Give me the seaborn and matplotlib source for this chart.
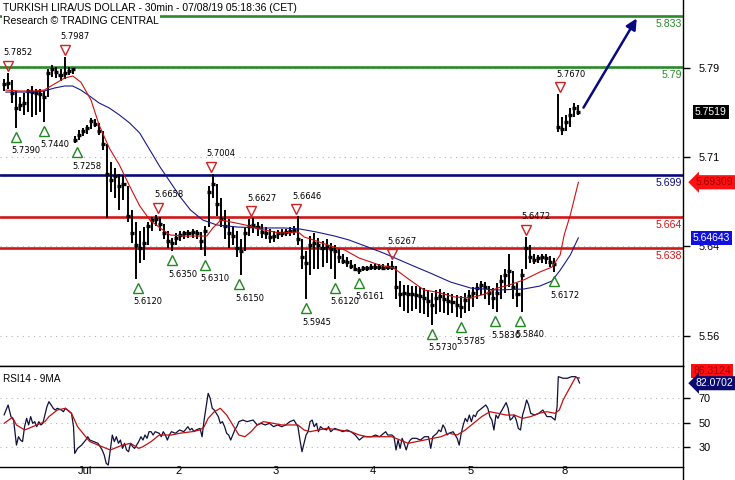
import numpy as np
import pandas as pd
import seaborn as sns
import matplotlib.pyplot as plt
import matplotlib.transforms as mtransforms
from matplotlib.lines import Line2D

# 30-min bars, x = bar number (0 = 1 Jul 00:00, weekends removed), one point per hour
bar_idx = list(range(-35, 0, 2)) + list(range(0, 237, 2)) + list(range(238, 249, 2))

bar_high = [
    # 28 Jun
    5.7800, 5.7852, 5.7790, 5.7700, 5.7650, 5.7680, 5.7720, 5.7740, 5.7720, 5.7720, 5.7700, 5.7880,
    5.7920, 5.7900, 5.7880, 5.7987, 5.7900, 5.7890,
    # 1 Jul
    5.7320, 5.7370, 5.7390, 5.7410, 5.7470, 5.7460, 5.7430, 5.7360, 5.7250, 5.7100, 5.7050, 5.7000,
    5.6990, 5.6900, 5.6700, 5.6600, 5.6520, 5.6550, 5.6600, 5.6640, 5.6658, 5.6640, 5.6580, 5.6520,
    # 2 Jul
    5.6460, 5.6500, 5.6520, 5.6520, 5.6530, 5.6540, 5.6530, 5.6510, 5.6560, 5.6900, 5.7004, 5.6920,
    5.6800, 5.6700, 5.6620, 5.6560, 5.6520, 5.6450, 5.6550, 5.6620, 5.6627, 5.6600, 5.6580, 5.6550,
    # 3 Jul
    5.6540, 5.6520, 5.6530, 5.6540, 5.6540, 5.6550, 5.6560, 5.6646, 5.6450, 5.6350, 5.6480, 5.6500,
    5.6460, 5.6440, 5.6450, 5.6420, 5.6400, 5.6370, 5.6330, 5.6300, 5.6280, 5.6240, 5.6220, 5.6230,
    # 4 Jul
    5.6230, 5.6240, 5.6240, 5.6240, 5.6240, 5.6250, 5.6267, 5.6230, 5.6100, 5.6070, 5.6070, 5.6060,
    5.6060, 5.6050, 5.6040, 5.6020, 5.6000, 5.6020, 5.6030, 5.6010, 5.6000, 5.5990, 5.5980, 5.5970,
    # 5 Jul
    5.6000, 5.6020, 5.6050, 5.6080, 5.6100, 5.6090, 5.6060, 5.6040, 5.6080, 5.6150, 5.6200, 5.6330,
    5.6180, 5.6080, 5.6200, 5.6472, 5.6400, 5.6330, 5.6320, 5.6330, 5.6330, 5.6310, 5.6290,
    # 8 Jul
    5.7670, 5.7480, 5.7500, 5.7560, 5.7600, 5.7580,
]
bar_low = [
    5.7700, 5.7720, 5.7600, 5.7390, 5.7530, 5.7500, 5.7520, 5.7480, 5.7500, 5.7520, 5.7440, 5.7650,
    5.7820, 5.7810, 5.7780, 5.7800, 5.7830, 5.7840,
    5.7258, 5.7290, 5.7320, 5.7340, 5.7380, 5.7400, 5.7330, 5.7200, 5.6630, 5.6850, 5.6800, 5.6700,
    5.6780, 5.6600, 5.6420, 5.6120, 5.6250, 5.6280, 5.6400, 5.6520, 5.6560, 5.6520, 5.6450, 5.6380,
    5.6350, 5.6400, 5.6440, 5.6450, 5.6460, 5.6460, 5.6450, 5.6360, 5.6310, 5.6550, 5.6800, 5.6650,
    5.6550, 5.6450, 5.6380, 5.6400, 5.6300, 5.6150, 5.6350, 5.6480, 5.6500, 5.6480, 5.6460, 5.6450,
    5.6420, 5.6430, 5.6450, 5.6470, 5.6480, 5.6480, 5.6490, 5.6400, 5.6200, 5.5945, 5.6150, 5.6200,
    5.6200, 5.6220, 5.6250, 5.6200, 5.6120, 5.6250, 5.6240, 5.6220, 5.6200, 5.6180, 5.6161, 5.6180,
    5.6180, 5.6190, 5.6190, 5.6190, 5.6190, 5.6190, 5.6190, 5.5950, 5.5880, 5.5850, 5.5830, 5.5850,
    5.5860, 5.5830, 5.5820, 5.5800, 5.5730, 5.5820, 5.5840, 5.5830, 5.5810, 5.5830, 5.5800, 5.5785,
    5.5830, 5.5850, 5.5880, 5.5950, 5.5980, 5.5950, 5.5900, 5.5860, 5.5836, 5.5950, 5.6000, 5.6050,
    5.5950, 5.5880, 5.5840, 5.6200, 5.6250, 5.6240, 5.6250, 5.6250, 5.6240, 5.6220, 5.6172,
    5.7350, 5.7330, 5.7360, 5.7400, 5.7480, 5.7500,
]
bar_close = [
    5.7760, 5.7770, 5.7680, 5.7560, 5.7580, 5.7600, 5.7700, 5.7690, 5.7680, 5.7670, 5.7650, 5.7850,
    5.7880, 5.7860, 5.7830, 5.7850, 5.7870, 5.7880,
    5.7290, 5.7330, 5.7360, 5.7390, 5.7450, 5.7420, 5.7360, 5.7250, 5.7000, 5.6950, 5.6980, 5.6900,
    5.6920, 5.6650, 5.6500, 5.6400, 5.6380, 5.6420, 5.6560, 5.6610, 5.6620, 5.6580, 5.6500, 5.6440,
    5.6420, 5.6460, 5.6490, 5.6500, 5.6500, 5.6510, 5.6500, 5.6440, 5.6520, 5.6850, 5.6920, 5.6750,
    5.6620, 5.6560, 5.6500, 5.6480, 5.6380, 5.6350, 5.6500, 5.6560, 5.6570, 5.6550, 5.6510, 5.6500,
    5.6470, 5.6480, 5.6500, 5.6500, 5.6510, 5.6520, 5.6530, 5.6450, 5.6300, 5.6250, 5.6400, 5.6420,
    5.6400, 5.6380, 5.6390, 5.6370, 5.6350, 5.6300, 5.6270, 5.6260, 5.6230, 5.6200, 5.6190, 5.6210,
    5.6210, 5.6220, 5.6220, 5.6220, 5.6210, 5.6220, 5.6220, 5.6050, 5.5990, 5.6000, 5.5990, 5.5990,
    5.5980, 5.5970, 5.5960, 5.5930, 5.5900, 5.5960, 5.5970, 5.5950, 5.5930, 5.5920, 5.5900, 5.5880,
    5.5940, 5.5970, 5.6000, 5.6040, 5.6070, 5.6050, 5.6000, 5.5960, 5.6000, 5.6100, 5.6150, 5.6180,
    5.6050, 5.5990, 5.6150, 5.6380, 5.6300, 5.6280, 5.6290, 5.6300, 5.6290, 5.6260, 5.6240,
    5.7400, 5.7380, 5.7440, 5.7500, 5.7560, 5.7519,
]

# moving averages (red = fast, blue = slow)
ma_fast_idx = [-34, -27, -20, -15, -10, -5, -1, 3, 8, 12, 17, 22, 27, 32, 37, 42, 47, 54, 62, 65,
               68, 72, 77, 84, 91, 101, 110, 113, 119, 126, 133, 140, 150, 157, 165, 172, 178, 187,
               195, 202, 208, 214, 221, 229, 235, 239, 241, 244, 248]
ma_fast = [5.7707, 5.7699, 5.7699, 5.7707, 5.7758, 5.7808, 5.7825, 5.7774, 5.7623, 5.7413, 5.7219,
           5.7076, 5.6899, 5.6731, 5.6613, 5.6546, 5.6487, 5.6478, 5.6478, 5.6478, 5.6546, 5.6613,
           5.6596, 5.6571, 5.6537, 5.6503, 5.6512, 5.6470, 5.6436, 5.6394, 5.6360, 5.6293, 5.6234,
           5.6209, 5.6108, 5.6024, 5.6007, 5.5965, 5.5956, 5.5990, 5.6040, 5.6066, 5.6108, 5.6175,
           5.6217, 5.6318, 5.6487, 5.6655, 5.69309]
ma_slow_idx = [-34, -27, -20, -15, -10, -5, -1, 3, 8, 12, 17, 22, 27, 32, 37, 42, 47, 52, 57, 63,
               70, 80, 91, 103, 111, 119, 128, 135, 143, 152, 160, 168, 175, 185, 195, 208, 221,
               229, 235, 239, 244, 248]
ma_slow = [5.7690, 5.7690, 5.7690, 5.7699, 5.7724, 5.7741, 5.7741, 5.7707, 5.7648, 5.7598, 5.7556,
           5.7497, 5.7430, 5.7345, 5.7202, 5.7059, 5.6933, 5.6806, 5.6697, 5.6613, 5.6571, 5.6554,
           5.6546, 5.6546, 5.6537, 5.6512, 5.6478, 5.6445, 5.6394, 5.6335, 5.6276, 5.6217, 5.6167,
           5.6091, 5.6040, 5.6024, 5.6032, 5.6057, 5.6100, 5.6190, 5.6318, 5.64643]

# key levels
levels = [5.833, 5.79, 5.699, 5.664, 5.638]
level_labels = ["5.833", "5.79", "5.699", "5.664", "5.638"]
level_colors = ["#2a8a2a", "#2a8a2a", "#0a0a80", "#d01818", "#d01818"]

# swing highs / lows
peak_idx = [-33, -5, 41, 67, 87, 109, 156, 222, 239]
peak_price = [5.7852, 5.7987, 5.6658, 5.7004, 5.6627, 5.6646, 5.6267, 5.6472, 5.7670]
trough_idx = [-29, -15, 1, 31, 48, 64, 81, 114, 128, 140, 176, 190, 207, 219, 236]
trough_price = [5.7390, 5.7440, 5.7258, 5.6120, 5.6350, 5.6310, 5.6150, 5.5945, 5.6120, 5.6161,
                5.5730, 5.5785, 5.5836, 5.5840, 5.6172]

# target arrow
arrow_idx = [249.8, 277.4]
arrow_price = [5.7539, 5.8330]

# RSI14 and its 9MA
rsi_idx = [-34.8, -32.8, -31.4, -30.1, -28.7, -27.7, -26.7, -25.7, -24.7, -23.7, -22.7, -21.7, -20.7,
           -19.7, -18.7, -17.7, -16.7, -15.7, -14.7, -13.7, -12.7, -11.6, -10.6, -9.6, -8.6, -6.6,
           -5.6, -4.6, -3.6, -2.6, -1.6, -0.6, 0, 1.4, 3.4, 5.4, 6.4, 7.4, 9.4, 11.5, 13.5, 14.5,
           15.5, 16.5, 17.5, 18.5, 19.5, 20.5, 21.5, 22.5, 23.5, 24.5, 25.5, 26.5, 27.5, 28.5, 29.5,
           30.5, 31.5, 32.6, 33.6, 34.6, 35.6, 36.6, 37.6, 38.6, 39.6, 41.6, 42.6, 43.6, 44.6, 45.6,
           46.6, 47.6, 49.6, 51.6, 53.7, 55.7, 56.7, 57.7, 58.7, 59.7, 61.7, 62.7, 63.7, 64.7, 65.7,
           66.7, 67.7, 68.7, 69.7, 70.7, 71.7, 72.7, 73.8, 74.8, 75.8, 76.8, 77.8, 78.8, 79.8, 80.8,
           82.8, 84.8, 87.8, 89.8, 91.8, 93.8, 95.9, 97.9, 99.9, 101.9, 103.9, 105.9, 107.9, 109.9,
           110.9, 111.9, 112.9, 113.9, 114.9, 115.9, 116.9, 117.9, 119.0, 120.0, 121.0, 122.0,
           124.0, 125.0, 126.0, 128.0, 130.0, 132.0, 134.0, 136.0, 138.1, 140.1, 141.1, 142.1,
           144.1, 146.1, 148.1, 150.1, 152.1, 153.1, 154.1, 156.1, 157.2, 158.2, 159.2, 160.2,
           161.2, 162.2, 163.2, 164.2, 165.2, 166.2, 168.2, 170.2, 172.2, 174.2, 175.3, 176.3,
           178.3, 179.3, 180.3, 181.3, 182.3, 183.3, 184.3, 186.3, 188.3, 189.3, 190.3, 191.3,
           192.3, 193.3, 194.3, 195.3, 196.3, 197.3, 198.3, 200.4, 202.4, 203.4, 204.4, 205.4,
           206.4, 207.4, 208.4, 209.4, 210.4, 212.4, 213.4, 214.4, 215.4, 216.4, 217.4, 218.4,
           219.5, 220.5, 221.5, 222.5, 223.5, 224.5, 226.5, 228.5, 230.5, 231.5, 232.5, 234.5,
           236.5, 237.5, 238.1, 240.5, 242.6, 244.6, 246.6, 247.6, 248.6]
rsi = [56.1, 64.3, 54.8, 52.0, 31.6, 38.4, 35.7, 34.4, 46.6, 53.4, 48.0, 54.8, 49.3,
       50.7, 46.6, 50.7, 48.0, 49.3, 56.1, 62.9, 67.0, 64.3, 61.6, 60.2, 61.6, 60.2,
       58.8, 61.6, 60.2, 58.8, 57.5, 46.6, 24.8, 28.9, 31.6, 35.7, 38.4, 35.7, 34.4, 33.0, 27.6, 23.5,
       16.7, 15.3, 27.6, 39.8, 34.4, 38.4, 33.0, 35.7, 28.9, 33.0, 27.6, 26.2, 33.0, 30.3, 28.9,
       31.6, 34.4, 38.4, 35.7, 39.8, 37.1, 42.5, 42.5, 39.8, 42.5, 41.2, 38.4, 42.5, 39.8, 35.7,
       39.8, 42.5, 41.2, 43.9, 42.5, 46.6, 43.9, 45.2, 42.5, 43.9, 45.2, 38.4, 52.0, 62.9, 73.8,
       69.7, 61.6, 60.2, 57.5, 54.8, 49.3, 50.7, 46.6, 41.2, 39.8, 35.7, 39.8, 43.9, 46.6, 50.7,
       52.0, 50.7, 52.0, 48.0, 49.3, 48.0, 49.3, 46.6, 48.0, 46.6, 48.0, 50.7, 52.0, 46.6,
       35.7, 26.2, 33.0, 39.8, 42.5, 50.7, 52.0, 46.6, 49.3, 42.5, 46.6, 45.2,
       43.9, 46.6, 42.5, 45.2, 43.9, 42.5, 43.9, 42.5, 39.8, 35.7, 37.1, 38.4,
       38.4, 38.4, 39.8, 38.4, 41.2, 42.5, 39.8, 39.8, 38.4, 27.6, 35.7, 28.9,
       37.1, 33.0, 27.6, 33.0, 35.7, 37.1, 37.1, 35.7, 38.4, 38.4, 28.9, 38.4,
       41.2, 43.9, 42.5, 48.0, 45.2, 39.8, 41.2, 42.5, 37.1, 31.6, 41.2, 48.0,
       53.4, 50.7, 56.1, 50.7, 56.1, 54.8, 58.8, 61.6, 64.3, 61.6, 54.8, 52.0,
       43.9, 56.1, 53.4, 57.5, 60.2, 66.2, 61.6, 52.0, 53.4, 56.1, 52.0, 45.2,
       43.9, 56.1, 61.6, 68.4, 64.3, 57.5, 56.1, 57.5, 60.2, 57.5, 54.8, 54.8,
       52.0, 62.9, 87.4, 86.1, 86.1, 87.4, 87.4, 86.1, 82.0702]
rsi_ma_idx = [-34.8, -30.7, -28.7, -24.7, -22.7, -18.7, -14.7, -12.7, -8.6, -4.6, -1.6, 1.4, 3.4,
              5.4, 7.4, 11.5, 15.5, 17.5, 19.5, 23.5, 27.5, 31.5, 33.6, 37.6, 41.6, 47.6, 51.6,
              57.7, 61.7, 63.7, 65.7, 68.7, 71.7, 74.8, 77.8, 80.8, 83.8, 86.8, 89.8, 92.9, 97.9,
              101.9, 105.9, 109.9, 112.9, 115.9, 120.0, 124.0, 130.0, 136.0, 140.1, 144.1, 152.1,
              156.1, 160.2, 164.2, 168.2, 172.2, 176.3, 180.3, 184.3, 188.3, 192.3, 196.3, 200.4,
              204.4, 208.4, 212.4, 216.4, 220.5, 224.5, 228.5, 232.5, 236.5, 238.6, 240.5, 243.6,
              246.6, 248.6]
rsi_ma = [49.3, 54.2, 48.0, 43.9, 45.2, 48.0, 50.7, 54.8, 60.2, 61.6, 57.5, 46.6, 42.5,
          38.4, 34.4, 31.6, 28.9, 27.6, 28.9, 31.6, 33.0, 28.9, 30.3, 34.4, 39.8, 39.8, 41.2,
          42.5, 43.9, 46.6, 53.4, 58.8, 61.6, 56.1, 48.0, 39.8, 38.4, 42.5, 48.0, 50.7, 49.3,
          48.0, 48.0, 48.0, 43.9, 42.5, 43.9, 45.2, 43.9, 42.5, 39.8, 38.4, 38.4,
          38.4, 35.7, 33.0, 34.4, 35.7, 37.1, 38.4, 41.2, 39.8, 43.9, 49.3, 54.8,
          58.8, 57.5, 56.1, 56.1, 53.4, 54.8, 57.5, 58.8, 57.5, 60.2, 68.4, 77.9,
          86.9, 86.3124]

day_ticks = [0, 48, 96, 144, 192, 238]
day_labels = ["Jul", "2", "3", "4", "5", "8"]

sns.set_style("white")
plt.rcParams["font.family"] = ["Liberation Sans", "DejaVu Sans"]
plt.rcParams["text.color"] = "black"
plt.rcParams["xtick.color"] = "black"
plt.rcParams["ytick.color"] = "black"

fig = plt.figure(figsize=(7.35, 4.8), dpi=100)
ax = fig.add_axes([0, 114 / 480, 683 / 735, 366 / 480])
ax_rsi = fig.add_axes([0, 13 / 480, 683 / 735, 101 / 480])


def shift(dx, dy):
    # offset in pixels
    return mtransforms.ScaledTranslation(dx / 100, dy / 100, fig.dpi_scale_trans)


# --- price panel ---
ax.set_xlim(-36.8, 299.5)
ax.set_ylim(5.5384, 5.8465)
ax.set_yticks([5.564, 5.639, 5.714, 5.789])
ax.set_yticklabels(["5.56", "5.64", "5.71", "5.79"])
ax.yaxis.tick_right()
ax.tick_params(axis="y", direction="out", length=5, width=1, color="black", labelsize=7.8, pad=6)
ax.set_xticks([])
ax.grid(axis="y", color="#b5b5b5", linestyle=(0, (1, 4)), lw=0.8)
for s in ["left", "top"]:
    ax.spines[s].set_visible(False)
for s in ["right", "bottom"]:
    ax.spines[s].set_color("black")
    ax.spines[s].set_linewidth(1)

blend = mtransforms.blended_transform_factory(ax.transAxes, ax.transData)
for lvl, lab, col in zip(levels, level_labels, level_colors):
    ax.axhline(lvl, color=col, lw=1.9, zorder=2)
    ax.text(0.998, lvl, lab, transform=blend + shift(0, -3), ha="right", va="top",
            color=col, fontsize=7.6)

bx = np.array(bar_idx)
ax.vlines(bx, bar_low, bar_high, color="black", lw=1.4, zorder=3)
ax.hlines(bar_close, bx - 1, bx + 1, color="black", lw=2.4, zorder=3)

sns.lineplot(x=ma_slow_idx, y=ma_slow, ax=ax, color="#1a1a8c", lw=0.8, sort=False,
             estimator=None, zorder=4)
sns.lineplot(x=ma_fast_idx, y=ma_fast, ax=ax, color="#d01010", lw=0.8, sort=False,
             estimator=None, zorder=4)

for i, v in zip(peak_idx, peak_price):
    ax.plot(i, v, marker="v", ms=7, mfc="none", mec="#cc2222", mew=1,
            transform=ax.transData + shift(0, 7), zorder=5)
    ax.text(i, v, f"{v:.4f}", transform=ax.transData + shift(-4, 20), ha="left",
            va="center", fontsize=6, family="DejaVu Sans", zorder=5)
for i, v in zip(trough_idx, trough_price):
    ax.plot(i, v, marker="^", ms=7, mfc="none", mec="#228822", mew=1,
            transform=ax.transData + shift(0, -9), zorder=5)
    ax.text(i, v, f"{v:.4f}", transform=ax.transData + shift(-4, -23), ha="left",
            va="center", fontsize=6, family="DejaVu Sans", zorder=5)

ax.annotate("", xy=(arrow_idx[1], arrow_price[1]), xytext=(arrow_idx[0], arrow_price[0]),
            arrowprops=dict(arrowstyle="-|>", color="#0a0a80", lw=1.8, mutation_scale=16),
            zorder=6)

# value flags on the right
ax.text(1, bar_close[-1], f"{bar_close[-1]:.4f}", transform=blend + shift(12, 0),
        ha="left", va="center", color="white", fontsize=7.5, clip_on=False,
        bbox=dict(boxstyle="square,pad=0.2", fc="black", ec="none"))
ax.text(1, ma_fast[-1], f"{ma_fast[-1]:.5f}", transform=blend + shift(13, 0),
        ha="left", va="center", color="#a00000", fontsize=7.5, clip_on=False,
        bbox=dict(boxstyle="larrow,pad=0.2", fc="#ff1010", ec="none"))
ax.text(1, ma_slow[-1], f"{ma_slow[-1]:.5f}", transform=blend + shift(10, 0),
        ha="left", va="center", color="white", fontsize=7.5, clip_on=False,
        bbox=dict(boxstyle="square,pad=0.2", fc="#1010e0", ec="none"))

# --- RSI panel ---
ax_rsi.set_xlim(-36.8, 299.5)
ax_rsi.set_ylim(13.7, 96.1)
ax_rsi.set_yticks([30, 50, 70])
ax_rsi.yaxis.tick_right()
ax_rsi.tick_params(axis="y", direction="out", length=5, width=1, color="black",
                   labelsize=7.8, pad=6)
ax_rsi.set_xticks(day_ticks)
ax_rsi.set_xticklabels(day_labels)
ax_rsi.tick_params(axis="x", direction="out", length=4.5, width=1, color="black",
                   labelsize=8, pad=-5)
for lbl in ax_rsi.get_xticklabels():
    lbl.set_ha("left")
    lbl.set_transform(lbl.get_transform() + shift(3, 0))
ax_rsi.grid(axis="y", color="#b5b5b5", linestyle=(0, (1, 4)), lw=0.8)
ax_rsi.spines["left"].set_visible(False)
for s in ["right", "top", "bottom"]:
    ax_rsi.spines[s].set_color("black")
    ax_rsi.spines[s].set_linewidth(1)

sns.lineplot(x=rsi_idx, y=rsi, ax=ax_rsi, color="#10103a", lw=0.9, sort=False, estimator=None)
sns.lineplot(x=rsi_ma_idx, y=rsi_ma, ax=ax_rsi, color="#c01010", lw=0.9, sort=False,
             estimator=None)

rblend = mtransforms.blended_transform_factory(ax_rsi.transAxes, ax_rsi.transData)
ax_rsi.text(1, rsi_ma[-1], f"{rsi_ma[-1]:.4f}", transform=rblend + shift(10, 7),
            ha="left", va="center", color="#a00000", fontsize=7.5, clip_on=False,
            bbox=dict(boxstyle="square,pad=0.2", fc="#ff1010", ec="none"))
ax_rsi.text(1, rsi[-1], f"{rsi[-1]:.4f}", transform=rblend + shift(13, 0),
            ha="left", va="center", color="white", fontsize=7.5, clip_on=False,
            bbox=dict(boxstyle="larrow,pad=0.2", fc="#0a0a70", ec="none"))
ax_rsi.text(0.004, 0.92, "RSI14 - 9MA", transform=ax_rsi.transAxes, ha="left", va="top",
            fontsize=7.2)

fig.add_artist(Line2D([683 / 735, 683 / 735], [0, 13 / 480], color="black", lw=1))

# header
fig.text(3 / 735, 1 - 8 / 480, "TURKISH LIRA/US DOLLAR - 30min - 07/08/19 05:18:36 (CET)",
         ha="left", va="center", fontsize=7.5,
         bbox=dict(boxstyle="square,pad=0.1", fc="white", ec="none"))
fig.text(3 / 735, 1 - 21 / 480, "Research \u00a9 TRADING CENTRAL", ha="left", va="center",
         fontsize=7.5, bbox=dict(boxstyle="square,pad=0.1", fc="white", ec="none"))

fig.savefig("out.png", dpi=100)
